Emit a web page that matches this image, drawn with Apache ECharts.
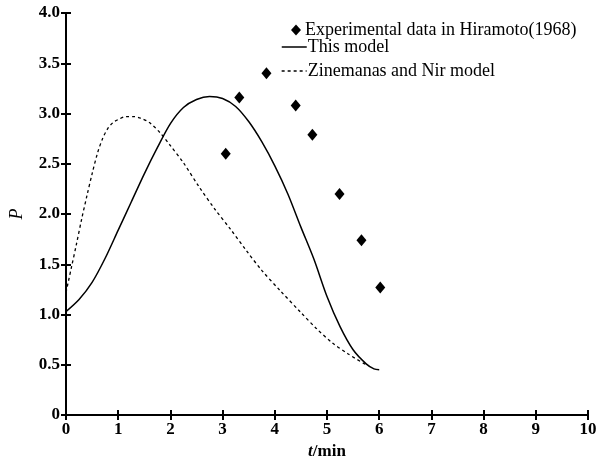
<!DOCTYPE html>
<html>
<head>
<meta charset="utf-8">
<script src="https://cdn.jsdelivr.net/npm/echarts@6/dist/echarts.min.js"></script>
<style>html,body{margin:0;padding:0;background:#fff}#c{width:608px;height:465px}</style>
</head>
<body>
<div id="c"></div>
<script>
const expT = [3.06, 3.32, 3.84, 4.40, 4.72, 5.24, 5.66, 6.02];
const expP = [2.60, 3.16, 3.40, 3.08, 2.79, 2.20, 1.74, 1.27];
const thisT = [0, 0.25, 0.5, 0.75, 1.0, 1.25, 1.5, 1.75, 2.0, 2.25, 2.5, 2.75, 3.0, 3.25, 3.5, 3.75, 4.0, 4.25, 4.5, 4.75, 5.0, 5.25, 5.5, 5.75, 5.9, 6.0];
const thisP = [1.03, 1.15, 1.32, 1.56, 1.84, 2.12, 2.40, 2.66, 2.90, 3.06, 3.14, 3.17, 3.15, 3.07, 2.92, 2.72, 2.48, 2.20, 1.87, 1.55, 1.18, 0.88, 0.65, 0.51, 0.46, 0.45];
const zinT = [0, 0.1, 0.2, 0.3, 0.4, 0.5, 0.6, 0.7, 0.8, 0.9, 1.0, 1.15, 1.3, 1.45, 1.6, 1.8, 2.0, 2.25, 2.55, 2.85, 3.15, 3.45, 3.75, 4.1, 4.5, 4.8, 5.1, 5.4, 5.75];
const zinP = [1.22, 1.46, 1.70, 1.95, 2.18, 2.40, 2.60, 2.75, 2.85, 2.91, 2.94, 2.97, 2.97, 2.95, 2.91, 2.81, 2.68, 2.51, 2.27, 2.05, 1.85, 1.64, 1.44, 1.24, 1.02, 0.86, 0.72, 0.61, 0.50];
const xTicks = [0,1,2,3,4,5,6,7,8,9,10];
const yTickLabels = ['0','0.5','1.0','1.5','2.0','2.5','3.0','3.5','4.0'];
const names = ['Experimental data in Hiramoto(1968)', 'This model', 'Zinemanas and Nir model'];

const zip = (a, b) => a.map((v, i) => [v, b[i]]);
const serif = 'Liberation Serif, Times New Roman, serif';
const lbl = {fontFamily: serif, fontSize: 17, fontWeight: 'bold', color: '#000'};
const axLine = {show: true, lineStyle: {color: '#000', width: 2}};
const tick = {show: true, inside: true, length: 5, lineStyle: {color: '#000', width: 2}};
const legText = {fontFamily: serif, fontSize: 18, color: '#000'};

const chart = echarts.init(document.getElementById('c'));
chart.setOption({
  animation: false,
  backgroundColor: '#fff',
  grid: {left: 66, right: 20, top: 13, bottom: 42},
  xAxis: [
    {type: 'value', min: 0, max: 10, interval: 1, position: 'bottom',
     axisLine: axLine, axisTick: tick, splitLine: {show: false},
     axisLabel: Object.assign({margin: 6, formatter: v => String(xTicks[Math.round(v)])}, lbl),
     name: '{i|t}/min', nameLocation: 'middle', nameGap: 22,
     nameTextStyle: {fontFamily: serif, fontSize: 17, fontWeight: 'bold', color: '#000',
       rich: {i: {fontFamily: serif, fontSize: 17, fontStyle: 'italic', fontWeight: 'bold', color: '#000'}}}},
    {type: 'value', min: 0, max: 10, interval: 1, position: 'top',
     axisLine: axLine, axisTick: tick, splitLine: {show: false}, axisLabel: {show: false}}
  ],
  yAxis: [
    {type: 'value', min: 0, max: 4, interval: 0.5, position: 'left',
     axisLine: axLine, axisTick: tick, splitLine: {show: false},
     axisLabel: Object.assign({margin: 6, formatter: v => yTickLabels[Math.round(v * 2)]}, lbl),
     name: 'P', nameLocation: 'middle', nameGap: 40, nameRotate: 90,
     nameTextStyle: {fontFamily: serif, fontSize: 18, fontStyle: 'italic', color: '#000'}},
    {type: 'value', min: 0, max: 4, interval: 0.5, position: 'right',
     axisLine: axLine, axisTick: tick, splitLine: {show: false}, axisLabel: {show: false}}
  ],
  legend: [
    {data: [names[0]], left: 291, top: 21, padding: 0, itemWidth: 10, itemHeight: 11, itemGap: 0,
     textStyle: Object.assign({padding: [0, 0, 0, -1]}, legText)},
    {data: [names[1]], left: 281, top: 38, padding: 0, itemWidth: 25, itemHeight: 16,
     itemStyle: {opacity: 0}, lineStyle: {color: '#000', width: 1.5},
     textStyle: Object.assign({padding: [0, 0, 0, -4]}, legText)},
    {data: [names[2]], left: 281, top: 62, padding: 0, itemWidth: 25, itemHeight: 16,
     itemStyle: {opacity: 0}, lineStyle: {color: '#000', width: 1.3, type: [3, 3]},
     textStyle: Object.assign({padding: [0, 0, 0, -4]}, legText)}
  ],
  series: [
    {name: names[0], type: 'scatter', symbol: 'diamond', symbolSize: [10, 12],
     itemStyle: {color: '#000', opacity: 1}, data: zip(expT, expP)},
    {name: names[1], type: 'line', smooth: 0.3, symbol: 'none',
     lineStyle: {color: '#000', width: 1.5, type: 'solid'}, itemStyle: {color: '#000'},
     data: zip(thisT, thisP)},
    {name: names[2], type: 'line', smooth: 0.3, symbol: 'none',
     lineStyle: {color: '#000', width: 1.3, type: [3, 3]}, itemStyle: {color: '#000'},
     data: zip(zinT, zinP)}
  ]
});
</script>
</body>
</html>
